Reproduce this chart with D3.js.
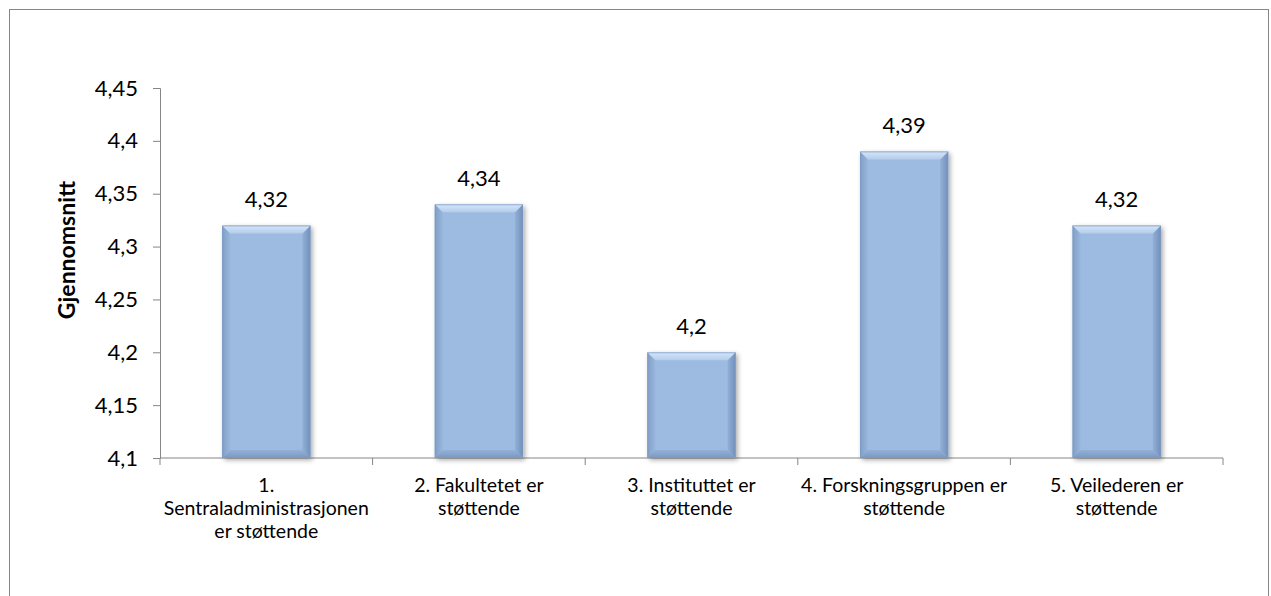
<!DOCTYPE html>
<html>
<head>
<meta charset="utf-8">
<script src="https://cdn.jsdelivr.net/npm/d3@7"></script>
<style>
  html, body { margin: 0; padding: 0; background: #fff; }
  svg { display: block; }
  text { font-family: Lato, "Open Sans", "Liberation Sans", sans-serif; fill: #000; }
</style>
</head>
<body>
<svg id="chart" width="1271" height="596"></svg>
<script>
// Gjennomsnittlig vurdering av hvor støttende hvert ledd er
const categories = [
  ["1.", "Sentraladministrasjonen", "er støttende"],
  ["2. Fakultetet er", "støttende"],
  ["3. Instituttet er", "støttende"],
  ["4. Forskningsgruppen er", "støttende"],
  ["5. Veilederen er", "støttende"]
];
const values = [4.32, 4.34, 4.2, 4.39, 4.32];
const yTicks = [4.1, 4.15, 4.2, 4.25, 4.3, 4.35, 4.4, 4.45];
const yDomain = [4.1, 4.45];
const yTitle = "Gjennomsnitt";

const fmt = v => String(+v.toFixed(2)).replace(".", ",");

const svg = d3.select("#chart");
const plot = { left: 160, right: 1223, top: 88, bottom: 458 };
const axisColor = "#868686";

// Outer chart frame
svg.append("rect")
  .attr("x", 9.5).attr("y", 9.5)
  .attr("width", 1259).attr("height", 600)
  .attr("fill", "#fff").attr("stroke", "#868686").attr("stroke-width", 1);

const x = d3.scaleBand()
  .domain(d3.range(categories.length))
  .range([plot.left, plot.right])
  .paddingInner(0.585).paddingOuter(0.2925);

const xOuter = d3.scaleBand()
  .domain(d3.range(categories.length))
  .range([plot.left, plot.right]);

const y = d3.scaleLinear().domain(yDomain).range([plot.bottom, plot.top]);

// Defs: gradients for bevel faces and a soft shadow
const defs = svg.append("defs");
const filt = defs.append("filter").attr("id", "shadow")
  .attr("x", "-20%").attr("y", "-10%").attr("width", "150%").attr("height", "130%");
filt.append("feGaussianBlur").attr("in", "SourceAlpha").attr("stdDeviation", 2.5);
filt.append("feOffset").attr("dx", 2).attr("dy", 2).attr("result", "ob");
filt.append("feComponentTransfer").append("feFuncA").attr("type", "linear").attr("slope", 0.35);
const merge = filt.append("feMerge");
merge.append("feMergeNode");
merge.append("feMergeNode").attr("in", "SourceGraphic");

function lin(id, x2, y2, stops) {
  const g = defs.append("linearGradient").attr("id", id)
    .attr("x1", 0).attr("y1", 0).attr("x2", x2).attr("y2", y2);
  stops.forEach(([o, c]) => g.append("stop").attr("offset", o).attr("stop-color", c));
}
lin("bevTop", 0, 1, [[0, "#d6e5f7"], [1, "#b3cdec"]]);
lin("bevLeft", 1, 0, [[0, "#819ec6"], [1, "#99b7dd"]]);
lin("bevRight", 1, 0, [[0, "#92b0d7"], [1, "#718fb8"]]);
lin("bevBottom", 0, 1, [[0, "#93b1d8"], [1, "#7a97c0"]]);

// Y axis
const yAxis = d3.axisLeft(y).tickValues(yTicks).tickFormat(fmt).tickSizeOuter(0).tickSize(7).tickPadding(15);
const gy = svg.append("g").attr("transform", `translate(${plot.left},0)`).call(yAxis);
gy.select(".domain").attr("stroke", axisColor);
gy.selectAll(".tick line").attr("stroke", axisColor);
gy.selectAll(".tick text").attr("font-size", 22).style("fill", "#000");

// X axis baseline and category separators
const xAxis = d3.axisBottom(xOuter).tickSize(0).tickFormat("");
const gx = svg.append("g").attr("transform", `translate(0,${plot.bottom})`).call(xAxis);
gx.select(".domain").attr("stroke", axisColor).attr("d", `M${plot.left},0H${plot.right}`);
const bounds = d3.range(categories.length + 1).map(i => i < categories.length ? xOuter(i) : plot.right);
gx.selectAll(".sep").data(bounds).join("line")
  .attr("class", "sep")
  .attr("x1", d => d).attr("x2", d => d)
  .attr("y1", 0).attr("y2", 7)
  .attr("stroke", axisColor);

// Bars with bevelled faces
const bars = svg.append("g").selectAll("g.bar").data(values).join("g").attr("class", "bar");
bars.each(function (v, i) {
  const g = d3.select(this);
  const x0 = x(i), w = x.bandwidth(), y0 = y(v), h = y(yDomain[0]) - y(v);
  const b = 8;
  g.append("rect").attr("x", x0).attr("y", y0).attr("width", w).attr("height", h)
    .attr("fill", "#9dbbe1").attr("filter", "url(#shadow)");
  const poly = pts => pts.map(p => p.join(",")).join(" ");
  g.append("polygon").attr("fill", "url(#bevLeft)")
    .attr("points", poly([[x0, y0], [x0 + b, y0 + b], [x0 + b, y0 + h - b], [x0, y0 + h]]));
  g.append("polygon").attr("fill", "url(#bevRight)")
    .attr("points", poly([[x0 + w, y0], [x0 + w - b, y0 + b], [x0 + w - b, y0 + h - b], [x0 + w, y0 + h]]));
  g.append("polygon").attr("fill", "url(#bevBottom)")
    .attr("points", poly([[x0, y0 + h], [x0 + b, y0 + h - b], [x0 + w - b, y0 + h - b], [x0 + w, y0 + h]]));
  g.append("polygon").attr("fill", "url(#bevTop)")
    .attr("points", poly([[x0, y0], [x0 + w, y0], [x0 + w - b, y0 + b], [x0 + b, y0 + b]]));
  g.append("rect").attr("x", x0 + 0.5).attr("y", y0 + 0.5).attr("width", w - 1).attr("height", h - 1)
    .attr("fill", "none").attr("stroke", "#7b98c0").attr("stroke-width", 1).attr("stroke-opacity", 0.7);
});

// Value labels
svg.append("g").selectAll("text").data(values).join("text")
  .attr("x", (d, i) => x(i) + x.bandwidth() / 2)
  .attr("y", d => y(d) - 18)
  .attr("text-anchor", "middle")
  .attr("font-size", 22)
  .text(fmt);

// Category labels (wrapped)
const cat = svg.append("g").selectAll("text").data(categories).join("text")
  .attr("text-anchor", "middle")
  .attr("font-size", 19.5);
cat.each(function (lines, i) {
  const t = d3.select(this);
  lines.forEach((ln, k) => {
    t.append("tspan")
      .attr("x", xOuter(i) + xOuter.bandwidth() / 2)
      .attr("y", 492 + k * 23)
      .text(ln);
  });
});

// Y axis title
svg.append("text")
  .attr("transform", "translate(75,250) rotate(-90)")
  .attr("text-anchor", "middle")
  .attr("font-size", 23)
  .attr("font-weight", "bold")
  .text(yTitle);
</script>
</body>
</html>
